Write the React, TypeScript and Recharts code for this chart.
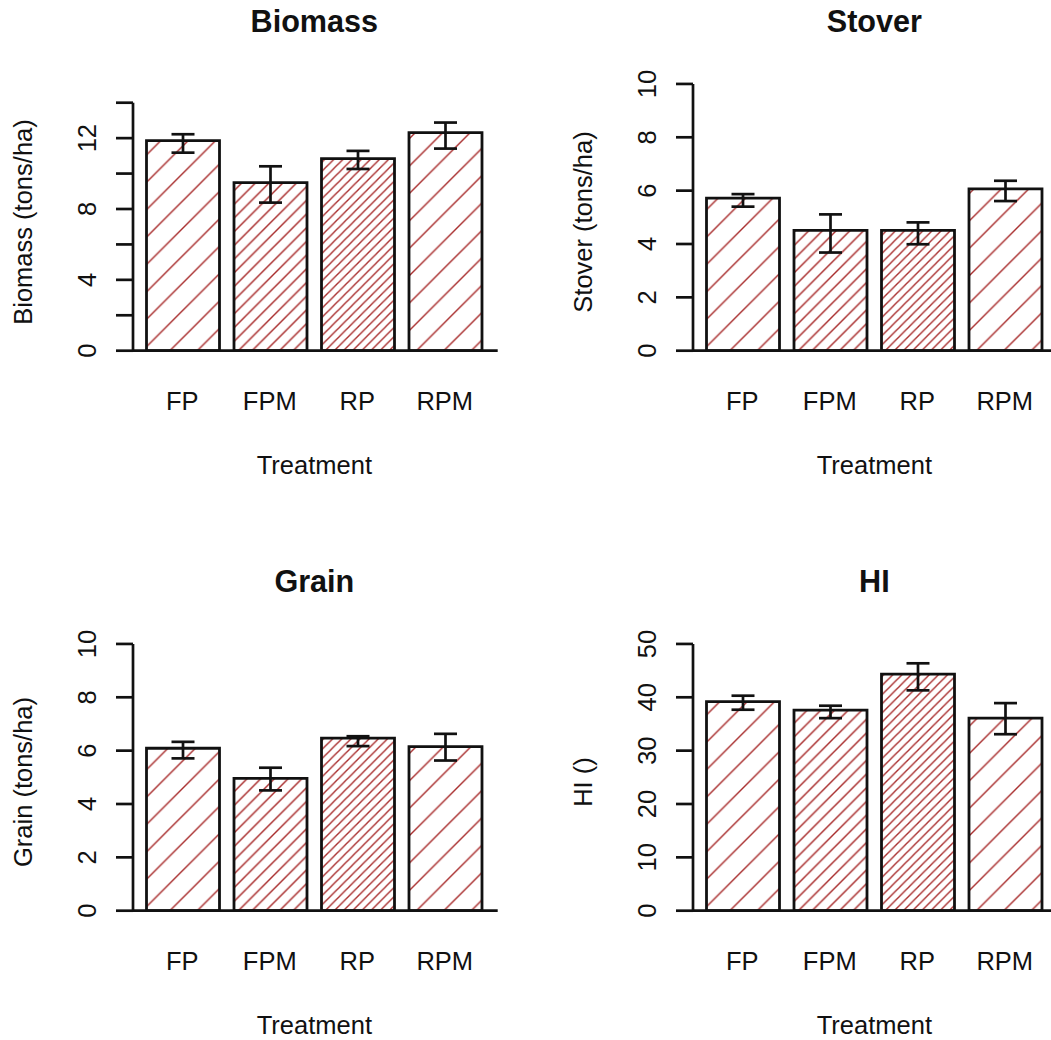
import { BarChart, Bar, XAxis, YAxis, ErrorBar, Cell } from "recharts";

const treatments = ["FP", "FPM", "RP", "RPM"];

const biomassMean = [11.86, 9.49, 10.84, 12.31];
const biomassLow = [11.18, 8.36, 10.26, 11.41];
const biomassHigh = [12.22, 10.41, 11.28, 12.88];

const stoverMean = [5.72, 4.51, 4.51, 6.07];
const stoverLow = [5.4, 3.68, 3.99, 5.61];
const stoverHigh = [5.87, 5.11, 4.81, 6.37];

const grainMean = [6.09, 4.96, 6.47, 6.15];
const grainLow = [5.71, 4.51, 6.17, 5.63];
const grainHigh = [6.33, 5.36, 6.54, 6.63];

const hiMean = [39.17, 37.6, 44.36, 36.09];
const hiLow = [37.67, 36.09, 41.3, 33.08];
const hiHigh = [40.3, 38.42, 46.37, 38.91];

const biomassTicks = [0, 2, 4, 6, 8, 10, 12, 14];
const biomassTickLabels = [0, 4, 8, 12];
const tenTicks = [0, 2, 4, 6, 8, 10];
const hiTicks = [0, 10, 20, 30, 40, 50];

// hatch lines per inch, like R's density argument
const hatchDensity = [10, 20, 30, 10];

const FONT = "'Liberation Sans', Arial, Helvetica, sans-serif";
const PANEL = 560;
const BASE_Y = 350.7;
const REGION_H = 288.1;
const AXIS_W = 2.7;
const HATCH = "#a82c2c";

function buildRows(mean: number[], low: number[], high: number[]) {
  return treatments.map((t, i) => ({
    name: t,
    value: mean[i],
    err: [mean[i] - low[i], high[i] - mean[i]],
  }));
}

interface PanelProps {
  id: string;
  left: number;
  top: number;
  title: string;
  yLabel: string;
  rows: { name: string; value: number; err: number[] }[];
  ticks: number[];
  tickLabels: number[];
  ylim: number;
}

function Panel({ id, left, top, title, yLabel, rows, ticks, tickLabels, ylim }: PanelProps) {
  const unit = REGION_H / (1.08 * ylim);
  const tickMax = ticks[ticks.length - 1];
  const plotTop = BASE_Y - tickMax * unit;
  const xAxisH = 60;
  const plotLeft = 133;
  const plotRight = 497.7;
  const centerX = (plotLeft + plotRight) / 2 - 1;

  const YTick = (p: any) => {
    const v = p.payload.value;
    if (!tickLabels.includes(v)) return <g />;
    return (
      <text
        x={p.x}
        y={p.y}
        transform={`rotate(-90 ${p.x} ${p.y})`}
        textAnchor="middle"
        fontFamily={FONT}
        fontSize={25.5}
        fill="#111"
      >
        {v}
      </text>
    );
  };

  const XTick = (p: any) => (
    <text x={p.x - 1} y={p.y + 58.8} textAnchor="middle" fontFamily={FONT} fontSize={25.5} fill="#111">
      {p.payload.value}
    </text>
  );

  return (
    <div style={{ position: "absolute", left, top, width: PANEL, height: PANEL }}>
      <BarChart
        width={PANEL}
        height={PANEL}
        data={rows}
        margin={{ top: plotTop, right: PANEL - plotRight, bottom: PANEL - BASE_Y - xAxisH, left: 33 }}
        barSize={73}
      >
        <defs>
          {hatchDensity.map((d, i) => {
            const v = (27.4 * 10) / d;
            return (
              <pattern key={i} id={`${id}-h${i}`} patternUnits="userSpaceOnUse" width={v} height={v}>
                <path
                  d={`M0,${v} L${v},0 M${-v / 2},${v / 2} L${v / 2},${-v / 2} M${v / 2},${1.5 * v} L${1.5 * v},${v / 2}`}
                  stroke={HATCH}
                  strokeWidth={1.4}
                  fill="none"
                />
              </pattern>
            );
          })}
        </defs>
        <XAxis
          dataKey="name"
          height={xAxisH}
          interval={0}
          tickLine={false}
          tickSize={0}
          tickMargin={0}
          padding={{ left: 6.5, right: 8.2 }}
          axisLine={{ stroke: "#111", strokeWidth: AXIS_W }}
          tick={XTick}
        />
        <YAxis
          width={100}
          type="number"
          domain={[0, tickMax]}
          ticks={ticks}
          interval={0}
          tickSize={17}
          tickMargin={19.5}
          axisLine={{ stroke: "#111", strokeWidth: AXIS_W }}
          tickLine={{ stroke: "#111", strokeWidth: AXIS_W }}
          tick={YTick}
        />
        <Bar dataKey="value" stroke="#111" strokeWidth={2.8} isAnimationActive={false}>
          {rows.map((r, i) => (
            <Cell key={r.name} fill={`url(#${id}-h${i})`} />
          ))}
          <ErrorBar dataKey="err" width={11.5} stroke="#111" strokeWidth={2.7} direction="y" />
        </Bar>
      </BarChart>
      <svg
        width={PANEL}
        height={PANEL}
        style={{ position: "absolute", left: 0, top: 0, pointerEvents: "none" }}
      >
        <text x={centerX} y={31.5} textAnchor="middle" fontFamily={FONT} fontSize={30.6} fontWeight="bold" fill="#111">
          {title}
        </text>
        <text x={centerX} y={473.5} textAnchor="middle" fontFamily={FONT} fontSize={25.5} fill="#111">
          Treatment
        </text>
        <text
          x={31.5}
          y={222}
          transform="rotate(-90 31.5 222)"
          textAnchor="middle"
          fontFamily={FONT}
          fontSize={25.5}
          fill="#111"
        >
          {yLabel}
        </text>
      </svg>
    </div>
  );
}

export default function App() {
  return (
    <div
      style={{
        position: "absolute",
        left: 0,
        top: 0,
        width: 1051,
        height: 1040,
        overflow: "hidden",
        background: "#fff",
      }}
    >
      <Panel
        id="bio"
        left={0}
        top={0}
        title="Biomass"
        yLabel="Biomass (tons/ha)"
        rows={buildRows(biomassMean, biomassLow, biomassHigh)}
        ticks={biomassTicks}
        tickLabels={biomassTickLabels}
        ylim={15.06}
      />
      <Panel
        id="sto"
        left={PANEL}
        top={0}
        title="Stover"
        yLabel="Stover (tons/ha)"
        rows={buildRows(stoverMean, stoverLow, stoverHigh)}
        ticks={tenTicks}
        tickLabels={tenTicks}
        ylim={10}
      />
      <Panel
        id="gra"
        left={0}
        top={PANEL}
        title="Grain"
        yLabel="Grain (tons/ha)"
        rows={buildRows(grainMean, grainLow, grainHigh)}
        ticks={tenTicks}
        tickLabels={tenTicks}
        ylim={10}
      />
      <Panel
        id="hi"
        left={PANEL}
        top={PANEL}
        title="HI"
        yLabel="HI ()"
        rows={buildRows(hiMean, hiLow, hiHigh)}
        ticks={hiTicks}
        tickLabels={hiTicks}
        ylim={50}
      />
    </div>
  );
}
